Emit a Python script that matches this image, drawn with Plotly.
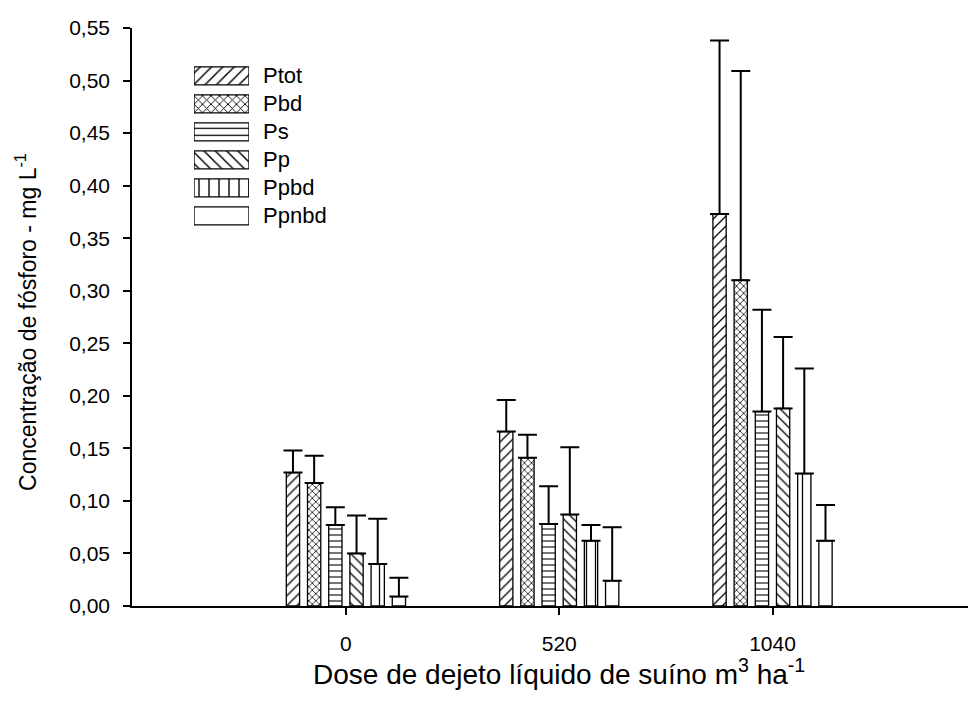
import plotly.graph_objects as go

doses = ["0", "520", "1040"]
series = ["Ptot", "Pbd", "Ps", "Pp", "Ppbd", "Ppnbd"]
means = {
    "Ptot":  [0.127, 0.166, 0.373],
    "Pbd":   [0.117, 0.141, 0.310],
    "Ps":    [0.077, 0.078, 0.185],
    "Pp":    [0.050, 0.087, 0.188],
    "Ppbd":  [0.040, 0.062, 0.126],
    "Ppnbd": [0.009, 0.024, 0.062],
}
upper = {
    "Ptot":  [0.148, 0.196, 0.538],
    "Pbd":   [0.143, 0.163, 0.509],
    "Ps":    [0.094, 0.114, 0.282],
    "Pp":    [0.086, 0.151, 0.256],
    "Ppbd":  [0.083, 0.077, 0.226],
    "Ppnbd": [0.027, 0.075, 0.096],
}
patterns = {"Ptot": "/", "Pbd": "x", "Ps": "-", "Pp": "\\", "Ppbd": "|", "Ppnbd": ""}
psize = {"Ptot": 7, "Pbd": 5, "Ps": 6, "Pp": 7, "Ppbd": 9, "Ppnbd": 8}
psolid = {"Ptot": 0.18, "Pbd": 0.28, "Ps": 0.18, "Pp": 0.18, "Ppbd": 0.14, "Ppnbd": 0.1}

FONT = "Liberation Sans, Arial, sans-serif"
xpos = list(range(len(doses)))

fig = go.Figure()
for s in series:
    err = [u - m for u, m in zip(upper[s], means[s])]
    fig.add_trace(go.Bar(
        name=s, x=xpos, y=means[s], showlegend=False, hoverinfo="skip",
        marker=dict(color="white", line=dict(color="black", width=1.3),
                    pattern=dict(shape=patterns[s], fgcolor="black", bgcolor="white",
                                 size=psize[s], solidity=psolid[s], fillmode="replace")),
        error_y=dict(type="data", array=err, arrayminus=[0] * len(err), symmetric=False,
                     color="black", thickness=2, width=9.5),
    ))

# legend swatches (drawn as patterned bars on a hidden helper axis)
leg_rows = list(range(len(series)))
fig.add_trace(go.Bar(
    orientation="h", y=leg_rows, x=[1] * len(series), base=0, width=0.64,
    xaxis="x2", yaxis="y2", showlegend=False, hoverinfo="skip",
    marker=dict(color="white", line=dict(color="black", width=1.3),
                pattern=dict(shape=[patterns[s] for s in series], fgcolor="black",
                             bgcolor="white", size=[psize[s] + 1 for s in series],
                             solidity=[psolid[s] for s in series], fillmode="replace")),
))

annotations = [
    dict(text="Dose de dejeto líquido de suíno m<sup>3</sup> ha<sup>-1</sup>",
         xref="paper", yref="paper", x=0.5059, y=-0.1147,
         xanchor="center", yanchor="middle", showarrow=False,
         font=dict(family=FONT, size=28, color="black")),
    dict(text="Concentração de fósforo - mg L<sup>-1</sup>",
         xref="paper", yref="paper", x=-0.1256, y=0.4914,
         xanchor="center", yanchor="middle", showarrow=False, textangle=-90,
         font=dict(family=FONT, size=23, color="black")),
]
for i, s in enumerate(series):
    annotations.append(dict(text=s, xref="paper", yref="y2", x=0.1525, y=i,
                            xanchor="left", yanchor="middle", showarrow=False,
                            font=dict(family=FONT, size=22, color="black")))

fig.update_layout(
    width=976, height=704,
    margin=dict(l=124, r=8, t=14, b=106),
    paper_bgcolor="white", plot_bgcolor="white",
    barmode="group", bargap=0.404, bargroupgap=0.373,
    separators=", ",
    font=dict(family=FONT, size=21, color="black"),
    showlegend=False,
    xaxis=dict(range=[-1.003, 2.954], tickvals=xpos, ticktext=doses,
               showline=True, linecolor="black", linewidth=1.5,
               ticks="outside", ticklen=7, tickwidth=1.5, tickcolor="black",
               showgrid=False, zeroline=False, ticklabelstandoff=11,
               tickfont=dict(family=FONT, size=21, color="black")),
    yaxis=dict(range=[0, 0.55], dtick=0.05, tick0=0, tickformat=".2f",
               showline=True, linecolor="black", linewidth=1.5,
               ticks="outside", ticklen=7, tickwidth=1.5, tickcolor="black",
               showgrid=False, zeroline=False, ticklabelstandoff=9,
               tickfont=dict(family=FONT, size=21, color="black")),
    xaxis2=dict(domain=[0.0735, 0.1386], range=[0, 1], anchor="y2", visible=False,
                fixedrange=True),
    yaxis2=dict(domain=[0.6507, 0.9415], range=[5.5, -0.5], anchor="x2", visible=False,
                fixedrange=True),
    annotations=annotations,
)

fig.write_html("out.html")
